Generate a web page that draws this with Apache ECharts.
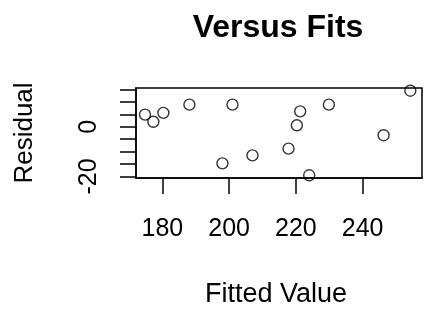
<!DOCTYPE html>
<html>
<head>
<meta charset="utf-8">
<script src="https://cdn.jsdelivr.net/npm/echarts@6/dist/echarts.min.js"></script>
<style>
  html, body { margin: 0; padding: 0; background: #fff; }
  #main { width: 425px; height: 311px; }
</style>
</head>
<body>
<div id="main"></div>
<script>
// fitted values and residuals
var fitted = [174.8, 177.3, 180.3, 188.1, 201.0, 198.0, 207.0, 217.8, 220.3, 221.3, 229.9, 224.0, 246.3, 254.3];
var residual = [4.9, 2.0, 5.6, 8.9, 8.9, -14.7, -11.5, -8.8, 0.6, 6.2, 8.9, -19.5, -3.4, 14.5];

var xTicks = [180, 200, 220, 240];
var yTicks = [-20, -15, -10, -5, 0, 5, 10, 15];
var yTickLabels = [-20, 0];

window.addEventListener('load', function () {
    var chart = echarts.init(document.getElementById('main'));
    var font = 'Liberation Sans, Arial, sans-serif';
    var points = fitted.map(function (f, i) { return [f, residual[i]]; });

    var option = {
        animation: false,
        title: {
            text: 'Versus Fits',
            left: 273,
            textAlign: 'center',
            top: 7,
            textStyle: { fontFamily: font, fontSize: 32, fontWeight: 'bold', color: '#000' }
        },
        grid: {
            left: 136,
            right: 3,
            top: 88,
            bottom: 133,
            show: true,
            borderColor: '#000',
            borderWidth: 1.5
        },
        xAxis: {
            type: 'value',
            min: 172.1,
            max: 257.8,
            name: 'Fitted Value',
            nameLocation: 'middle',
            nameGap: 103,
            nameTextStyle: { fontFamily: font, fontSize: 27, color: '#000', padding: [0, 6, 0, 0] },
            splitLine: { show: false },
            axisLine: { show: true, onZero: false, lineStyle: { color: '#000', width: 1.5 } },
            axisTick: { show: true, length: 16, customValues: xTicks, lineStyle: { color: '#000', width: 1.5 } },
            axisLabel: { customValues: xTicks, margin: 39, fontFamily: font, fontSize: 25, color: '#000' }
        },
        yAxis: {
            type: 'value',
            min: -20.6,
            max: 15.6,
            name: 'Residual',
            nameLocation: 'middle',
            nameGap: 98,
            nameTextStyle: { fontFamily: font, fontSize: 26, color: '#000' },
            splitLine: { show: false },
            axisLine: { show: true, onZero: false, lineStyle: { color: '#000', width: 1.5 } },
            axisTick: { show: true, length: 16, customValues: yTicks, lineStyle: { color: '#000', width: 1.5 } },
            axisLabel: { customValues: yTickLabels, rotate: 90, margin: 34, fontFamily: font, fontSize: 25, color: '#000' }
        },
        series: [{
            type: 'scatter',
            data: points,
            symbol: 'circle',
            symbolSize: 11,
            clip: true,
            itemStyle: { color: 'rgba(255,255,255,0)', borderColor: '#000', borderWidth: 1.4 }
        }]
    };
    chart.setOption(option);
}, false);
</script>
</body>
</html>
